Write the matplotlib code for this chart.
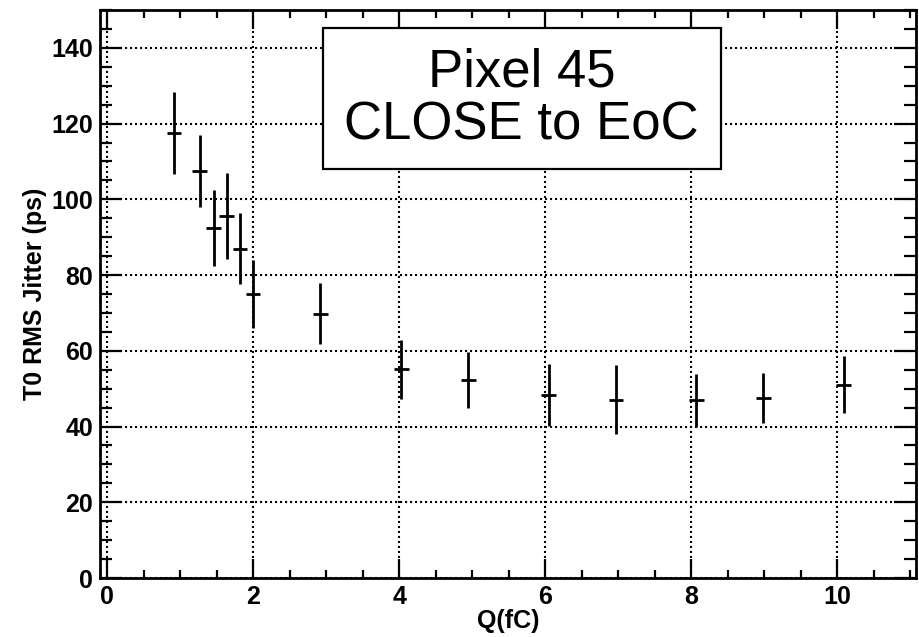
import matplotlib.pyplot as plt
from matplotlib.patches import Rectangle
from matplotlib.ticker import MultipleLocator

# Q (fC) and T0 RMS jitter (ps) with errors
charge = [0.92, 1.27, 1.46, 1.64, 1.82, 2.00, 2.92, 4.03, 4.95, 6.05, 6.97, 8.07, 8.99, 10.09]
jitter = [117.5, 107.5, 92.5, 95.6, 87.0, 75.0, 69.8, 55.1, 52.4, 48.4, 47.1, 46.9, 47.6, 51.1]
jitter_err = [10.8, 9.5, 10.0, 11.3, 9.4, 9.0, 8.1, 7.7, 7.4, 8.2, 9.2, 7.1, 6.6, 7.4]
charge_err = [0.1] * len(charge)

plt.rcParams['font.family'] = ['Liberation Sans', 'DejaVu Sans']

fig = plt.figure(figsize=(9.2, 6.37), dpi=100)
ax = fig.add_axes([100 / 920, 59 / 637, 816 / 920, 568 / 637])

ax.errorbar(charge, jitter, yerr=jitter_err, xerr=charge_err, fmt='none',
            ecolor='black', elinewidth=2.0, capsize=0, zorder=3)

ax.set_xlim(-0.096, 11.08)
ax.set_ylim(0, 150)

ax.xaxis.set_major_locator(MultipleLocator(2))
ax.xaxis.set_minor_locator(MultipleLocator(0.5))
ax.yaxis.set_major_locator(MultipleLocator(20))
ax.yaxis.set_minor_locator(MultipleLocator(5))

ax.grid(True, which='major', color='black', linestyle=(0, (1, 1.4)), linewidth=1.5)

ax.tick_params(axis='both', which='both', direction='in', top=True, right=True,
               width=1.6, colors='black')
ax.tick_params(axis='y', which='major', length=16, pad=5, labelsize=18)
ax.tick_params(axis='y', which='minor', length=8.5)
ax.tick_params(axis='x', which='major', length=14, pad=5, labelsize=18)
ax.tick_params(axis='x', which='minor', length=6)
for lab in ax.get_xticklabels() + ax.get_yticklabels():
    lab.set_fontweight('bold')

for s in ax.spines.values():
    s.set_linewidth(2.0)

ax.set_xlabel('Q(fC)', fontsize=18, fontweight='bold', labelpad=0)
ax.set_ylabel('T0 RMS Jitter (ps)', fontsize=18, fontweight='bold', labelpad=3)

# title box (pixel coordinates of the reference, converted to figure fraction)
box = Rectangle((322.7 / 920, 1 - 169 / 637), 398 / 920, 140.7 / 637,
                transform=fig.transFigure, facecolor='white', edgecolor='black',
                linewidth=1.6, zorder=5)
fig.add_artist(box)
fig.text(521.7 / 920, 1 - 99 / 637, 'Pixel 45\nCLOSE to EoC', ha='center', va='center',
         fontsize=38, linespacing=1.1, zorder=6)

fig.savefig('out.png', dpi=100)
